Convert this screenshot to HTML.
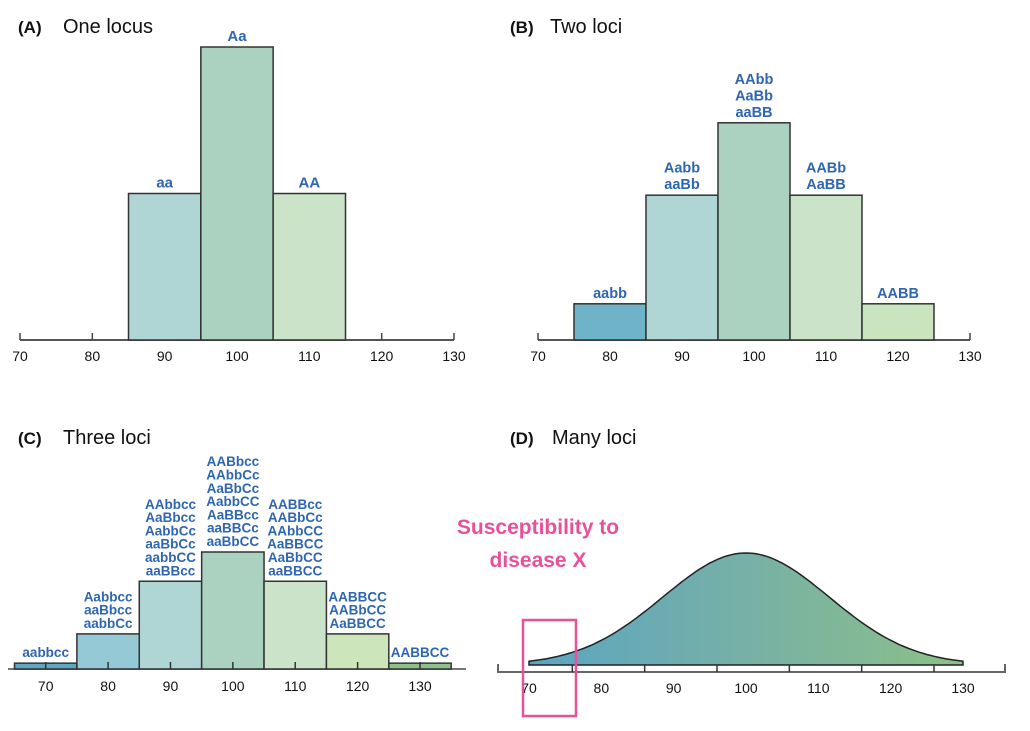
<!DOCTYPE html>
<html><head><meta charset="utf-8"><style>
body{margin:0;background:#fff;width:1030px;height:726px;overflow:hidden}
svg{font-family:"Liberation Sans",Arial,sans-serif}
.t{font-size:20px;fill:#111}
.tb{font-size:17px;font-weight:bold;fill:#111}
.g{font-weight:bold;fill:#2f66b2;text-anchor:middle}
.tk{font-size:14px;fill:#111;text-anchor:middle}
</style></head><body>
<svg id="s" width="1030" height="726">
<defs><linearGradient id="grad" x1="0" x2="1" y1="0" y2="0"><stop offset="0" stop-color="#5aa6c2"/><stop offset="0.5" stop-color="#77b0a6"/><stop offset="1" stop-color="#8cc088"/></linearGradient></defs>
<text x="18" y="33" class="tb">(A)</text><text x="63" y="33" class="t">One locus</text>
<text x="510" y="33" class="tb">(B)</text><text x="550" y="33" class="t">Two loci</text>
<text x="18" y="444" class="tb">(C)</text><text x="63" y="444" class="t">Three loci</text>
<text x="510" y="444" class="tb">(D)</text><text x="552" y="444" class="t">Many loci</text>
<text x="538" y="534" text-anchor="middle" style="font-size:21px;font-weight:bold;fill:#e8509a">Susceptibility to</text>
<text x="538" y="567" text-anchor="middle" style="font-size:21px;font-weight:bold;fill:#e8509a">disease X</text>
</svg>
<script>
const ticks=[70,80,90,100,110,120,130];
const aCats=[90,100,110];
const aCounts=[1,2,1];
const aLabels=[["aa"],["Aa"],["AA"]];
const bCats=[80,90,100,110,120];
const bCounts=[1,4,6,4,1];
const bLabels=[["aabb"],["Aabb","aaBb"],["AAbb","AaBb","aaBB"],["AABb","AaBB"],["AABB"]];
const cCats=[70,80,90,100,110,120,130];
const cCounts=[1,6,15,20,15,6,1];
const cLabels=[["aabbcc"],["Aabbcc","aaBbcc","aabbCc"],["AAbbcc","AaBbcc","AabbCc","aaBbCc","aabbCC","aaBBcc"],["AABbcc","AAbbCc","AaBbCc","AabbCC","AaBBcc","aaBBCc","aaBbCC"],["AABBcc","AABbCc","AAbbCC","AaBBCC","AaBbCC","aaBBCC"],["AABBCC","AABbCC","AaBBCC"],["AABBCC"]];
const dMean=[100];
const dSd=[11.5];
const aColors=["#afd5d4","#abd1c1","#cbe3c8"];
const bColors=["#6fb3c9","#afd5d4","#abd1c1","#cbe3c8","#c9e4bf"];
const cColors=["#5ea7c2","#96c9d6","#afd5d4","#abd1c1","#cbe3c8","#cde5ba","#8dc18c"];
const svg=document.getElementById('s');
const NS='http://www.w3.org/2000/svg';
function mk(t,a,p){const e=document.createElementNS(NS,t);for(const k in a)e.setAttribute(k,a[k]);(p||svg).appendChild(e);return e;}
function axis(x0,x1,y,ax0,ax1,ly,tickShift,id){
  const l=mk('line',{x1:ax0,x2:ax1,y1:y,y2:y,stroke:'#555','stroke-width':2});
  
  
  ticks.forEach(v=>{const sx=x0+(v-70)*(x1-x0)/60;
    const tk=mk('line',{x1:sx+tickShift,x2:sx+tickShift,y1:y,y2:y-7,stroke:'#444','stroke-width':1.5});
    
    
    const t=mk('text',{x:sx,y:ly,class:'tk'});t.textContent=v;
    
    });
}
function hist(cats,counts,labels,colors,x0,x1,y,unit,id,fs,lh){
  const sc=v=>x0+(v-70)*(x1-x0)/60;
  cats.forEach((c,i)=>{const xa=sc(c-5),xb=sc(c+5),h=counts[i]*unit;
    const r=mk('rect',{x:xa,y:y-h,width:xb-xa,height:h,fill:colors[i],stroke:'#333','stroke-width':1.5});
    
    
    const L=labels[i];
    L.forEach((s,j)=>{const t=mk('text',{x:(xa+xb)/2,y:y-h-6-(L.length-1-j)*lh,class:'g','font-size':fs});t.textContent=s;
      
      });
  });
}
axis(20,454,340,20,454,361,0,'panel-a');
hist(aCats,aCounts,aLabels,aColors,20,454,340,146.5,'panel-a',15,16);
axis(538,970,340,538,970,361,0,'panel-b');
hist(bCats,bCounts,bLabels,bColors,538,970,340,36.2,'panel-b',14.5,16.5);
mk('line',{x1:8,x2:466,y1:669,y2:669,stroke:'#777','stroke-width':2});
hist(cCats,cCounts,cLabels,cColors,45.7,420,669,5.85,'panel-c',13.5,13.3);
ticks.forEach(v=>{const sx=45.7+(v-70)*(420-45.7)/60;
  const tk=mk('line',{x1:sx,x2:sx,y1:669,y2:662,stroke:'#333','stroke-width':1.5});
  
  
  const t=mk('text',{x:sx,y:691,class:'tk'});t.textContent=v;
  
  });
// Panel D
const dx0=529,dx1=963,dy=665,dh=112;
const dsc=v=>dx0+(v-70)*(dx1-dx0)/60;
let p='M'+dsc(70)+','+dy;
for(let v=70;v<=130;v+=0.5){const yv=dy-dh*Math.exp(-Math.pow(v-dMean[0],2)/(2*dSd[0]*dSd[0]));p+=' L'+dsc(v).toFixed(1)+','+yv.toFixed(1);}
p+=' L'+dsc(130)+','+dy+' Z';
const curve=mk('path',{d:p,fill:'url(#grad)',stroke:'#222','stroke-width':1.5});


const da=mk('path',{d:'M498,664 L498,672 L1005,672 L1005,664',fill:'none',stroke:'#666','stroke-width':2});


ticks.forEach(v=>{const sx=dsc(v);
  if(v>70&&v<=130){const tk=mk('line',{x1:sx-29,x2:sx-29,y1:672,y2:665,stroke:'#333','stroke-width':1.5});
  
  }
  const t=mk('text',{x:sx,y:693,class:'tk'});t.textContent=v;
  
  });
const box=mk('rect',{x:523,y:620,width:53,height:96,fill:'none',stroke:'#e8509a','stroke-width':2.5});


</script>
</body></html>
